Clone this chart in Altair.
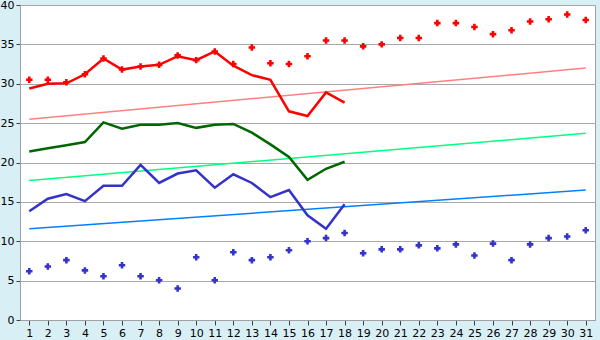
import altair as alt
import pandas as pd

days = list(range(1, 32))

# daily max markers (red)
red_points = [30.5, 30.5, 30.2, 31.2, 33.2, 31.8, 32.2, 32.4, 33.6, 33.0, 34.1, 32.5, 34.6, 32.6, 32.5, 33.5,
              35.5, 35.5, 34.75, 35.0, 35.8, 35.8, 37.7, 37.7, 37.2, 36.3, 36.8, 37.9, 38.2, 38.8, 38.1]
# red line (days 1-18)
red_line = [29.4, 30.0, 30.05, 31.2, 33.2, 31.8, 32.2, 32.4, 33.5, 33.0, 34.1, 32.3, 31.1, 30.5, 26.5, 25.9, 28.9, 27.6]
# green line (days 1-18)
green_line = [21.4, 21.8, 22.2, 22.6, 25.1, 24.3, 24.8, 24.8, 25.0, 24.4, 24.8, 24.9, 23.8, 22.3, 20.7, 17.8, 19.2, 20.1]
# blue line (days 1-18)
blue_line = [13.8, 15.4, 16.0, 15.1, 17.05, 17.05, 19.7, 17.4, 18.6, 19.0, 16.8, 18.5, 17.4, 15.6, 16.5, 13.3, 11.6, 14.7]
# daily min markers (blue)
blue_points = [6.2, 6.8, 7.6, 6.3, 5.55, 6.95, 5.55, 5.04, 4.0, 7.96, 5.04, 8.6, 7.6, 7.96, 8.85, 10.0,
               10.4, 11.05, 8.47, 8.97, 8.97, 9.48, 9.1, 9.6, 8.2, 9.7, 7.6, 9.6, 10.4, 10.6, 11.4]

# trend lines: value at day 1 and day 31
trend_days = [1, 31]
red_trend = [25.5, 32.0]
green_trend = [17.7, 23.7]
blue_trend = [11.6, 16.5]

xscale = alt.Scale(domain=[0.5, 31.5], nice=False, zero=False)
yscale = alt.Scale(domain=[0, 40], nice=False)

xaxis = alt.Axis(values=days, format="d", title=None, grid=False,
                 domain=True, domainColor="#A0A0A0", ticks=True, tickColor="#404040",
                 tickSize=5, labelFont="DejaVu Sans", labelFontSize=11, labelColor="#000000",
                 labelPadding=2, labelFlush=False, labelOverlap=False)
yaxis = alt.Axis(values=list(range(0, 41, 5)), title=None, grid=True, gridColor="#A8A8A8",
                 gridWidth=1, domain=True, domainColor="#A0A0A0", ticks=True, tickColor="#404040",
                 tickSize=4, labelFont="DejaVu Sans", labelFontSize=11, labelColor="#000000",
                 labelPadding=2, labelFlush=False, labelOverlap=False)

xenc = alt.X("day:Q", scale=xscale, axis=xaxis)
yenc = alt.Y("v:Q", scale=yscale, axis=yaxis)


def df(xs, vs):
    return pd.DataFrame({"day": xs, "v": vs})


def line(xs, vs, color, width):
    return alt.Chart(df(xs, vs)).mark_line(color=color, strokeWidth=width, interpolate="linear").encode(
        x=xenc, y=yenc)


def pts(xs, vs, color):
    return alt.Chart(df(xs, vs)).mark_point(shape="cross", filled=True, size=42, color=color, opacity=1,
                                            strokeWidth=0).encode(x=xenc, y=yenc)


chart = alt.layer(
    line(trend_days, red_trend, "#FF8080", 1.5),
    line(trend_days, green_trend, "#00FF80", 1.5),
    line(trend_days, blue_trend, "#0080FF", 1.5),
    line(days[:18], red_line, "#FF0000", 2.5),
    line(days[:18], green_line, "#006600", 2.5),
    line(days[:18], blue_line, "#3333CC", 2.5),
    pts(days, red_points, "#FF0000"),
    pts(days, blue_points, "#3333CC"),
).properties(
    width=575, height=315,
    background="#D9EFF6",
    padding={"left": 20, "top": 5, "right": 5, "bottom": 20},
    autosize=alt.AutoSizeParams(type="none"),
).configure_view(fill="#FFFFFF", stroke="#A0A0A0", strokeWidth=1)

chart.save("out.html", embed_options={"renderer": "svg", "actions": False})
